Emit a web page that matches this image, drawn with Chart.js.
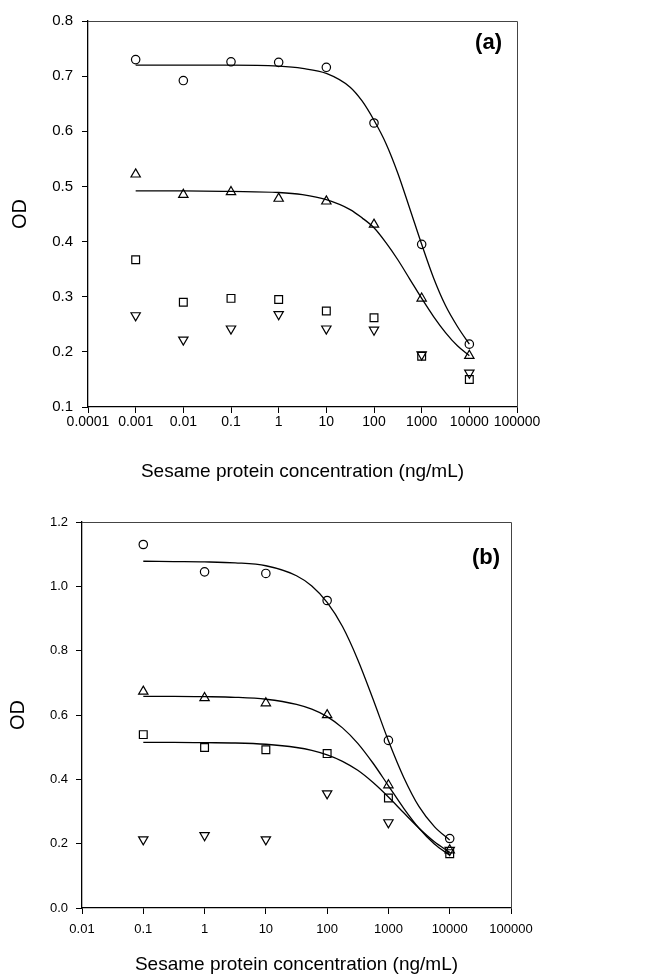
<!DOCTYPE html>
<html>
<head>
<meta charset="utf-8">
<script src="https://cdn.jsdelivr.net/npm/chart.js@4/dist/chart.umd.min.js"></script>
<style>
body { margin: 0; background: #fff; }
canvas { display: block; }
</style>
</head>
<body>
<canvas id="graficoA" width="656" height="488"></canvas>
<canvas id="graficoB" width="656" height="489"></canvas>
<script>
// Datos del panel (a)
const concA = [0.001, 0.01, 0.1, 1, 10, 100, 1000, 10000];
const circulosA = [0.730, 0.692, 0.726, 0.725, 0.716, 0.615, 0.395, 0.214];
const triangulosA = [0.522, 0.485, 0.490, 0.478, 0.473, 0.431, 0.297, 0.193];
const cuadradosA = [0.367, 0.290, 0.297, 0.295, 0.274, 0.262, 0.192, 0.150];
const invertidosA = [0.266, 0.222, 0.242, 0.268, 0.242, 0.240, 0.195, 0.162];

const curvaXA = [0.001, 0.01, 0.1, 1, 3.16, 10, 31.6, 56.2, 100, 178, 316, 562, 1000, 1778, 3162, 5623, 10000];
const ajusteCirculosA = [0.720, 0.720, 0.720, 0.718, 0.714, 0.705, 0.680, 0.655, 0.620, 0.578, 0.524, 0.460, 0.395, 0.334, 0.284, 0.246, 0.214];
const ajusteTriangulosA = [0.492, 0.492, 0.491, 0.489, 0.485, 0.476, 0.458, 0.443, 0.425, 0.398, 0.367, 0.332, 0.297, 0.264, 0.235, 0.211, 0.193];

const ticksXA = [0.0001, 0.001, 0.01, 0.1, 1, 10, 100, 1000, 10000, 100000];
const etiquetasXA = ["0.0001", "0.001", "0.01", "0.1", "1", "10", "100", "1000", "10000", "100000"];

// Datos del panel (b)
const concB = [0.1, 1, 10, 100, 1000, 10000];
const circulosB = [1.130, 1.045, 1.040, 0.956, 0.521, 0.216];
const triangulosB = [0.673, 0.653, 0.637, 0.600, 0.382, 0.180];
const cuadradosB = [0.539, 0.499, 0.492, 0.480, 0.342, 0.169];
const invertidosB = [0.213, 0.226, 0.213, 0.356, 0.266, 0.180];

const curvaXB = [0.1, 0.316, 1, 3.16, 10, 31.6, 56.2, 100, 178, 316, 562, 1000, 1778, 3162, 5623, 10000];
const ajusteCirculosB = [1.078, 1.077, 1.076, 1.073, 1.064, 1.033, 1.001, 0.950, 0.875, 0.772, 0.649, 0.520, 0.406, 0.315, 0.253, 0.211];
const ajusteTriangulosB = [0.658, 0.658, 0.657, 0.655, 0.649, 0.633, 0.618, 0.595, 0.560, 0.512, 0.450, 0.380, 0.310, 0.248, 0.199, 0.164];
const ajusteCuadradosB = [0.515, 0.515, 0.514, 0.513, 0.509, 0.499, 0.490, 0.476, 0.456, 0.428, 0.390, 0.345, 0.296, 0.248, 0.206, 0.173];

const ticksXB = [0.01, 0.1, 1, 10, 100, 1000, 10000, 100000];
const etiquetasXB = ["0.01", "0.1", "1", "10", "100", "1000", "10000", "100000"];

const tituloX = "Sesame protein concentration (ng/mL)";
const tituloY = "OD";
const FUENTE = "'Liberation Sans', Arial, sans-serif";

// Convierte dos listas en puntos {x, y}
function puntos(xs, ys) {
    return xs.map((x, i) => ({ x: x, y: ys[i] }));
}

function serieMarcas(xs, ys, estilo, radio, rotacion) {
    return {
        data: puntos(xs, ys),
        showLine: false,
        pointStyle: estilo,
        pointRadius: radio,
        pointRotation: rotacion || 0,
        pointBorderColor: '#000',
        pointBackgroundColor: 'rgba(0,0,0,0)',
        pointBorderWidth: 1.2
    };
}

function serieCurva(xs, ys) {
    return {
        data: puntos(xs, ys),
        showLine: true,
        borderColor: '#000',
        borderWidth: 1.3,
        pointRadius: 0,
        cubicInterpolationMode: 'monotone',
        fill: false
    };
}

// Marco superior/derecho y letra del panel
const marcoPlugin = {
    id: 'marco',
    afterDraw(chart, args, opts) {
        const ctx = chart.ctx;
        const a = chart.chartArea;
        ctx.save();
        ctx.strokeStyle = '#444';
        ctx.lineWidth = 1;
        ctx.beginPath();
        ctx.moveTo(a.left, a.top + 0.5);
        ctx.lineTo(a.right + 0.5, a.top + 0.5);
        ctx.lineTo(a.right + 0.5, a.bottom);
        ctx.stroke();
        ctx.fillStyle = '#000';
        ctx.font = "bold 22px " + FUENTE;
        ctx.textAlign = 'right';
        ctx.textBaseline = 'middle';
        ctx.fillText(opts.texto, a.right - opts.dx, a.top + opts.dy);
        ctx.restore();
    }
};

function crearGrafico(id, p) {
    const ctx = document.getElementById(id).getContext('2d');
    return new Chart(ctx, {
        type: 'scatter',
        data: { datasets: p.datasets },
        plugins: [marcoPlugin],
        options: {
            responsive: false,
            animation: false,
            devicePixelRatio: 1,
            layout: { padding: { top: p.arriba, right: p.derecha, left: 0, bottom: 0 } },
            plugins: {
                legend: { display: false },
                tooltip: { enabled: false },
                marco: { texto: p.letra, dx: p.letraDx, dy: p.letraDy }
            },
            scales: {
                x: {
                    type: 'logarithmic',
                    min: p.ticksX[0],
                    max: p.ticksX[p.ticksX.length - 1],
                    afterBuildTicks: s => { s.ticks = p.ticksX.map(v => ({ value: v })); },
                    afterFit: s => { s.height = p.altoEjeX; },
                    border: { display: true, color: '#000', width: 1.3 },
                    grid: { drawOnChartArea: false, drawTicks: true, tickLength: 6, color: '#000', lineWidth: 1 },
                    ticks: {
                        autoSkip: false,
                        maxRotation: 0,
                        padding: p.padTickX,
                        color: '#000',
                        font: { family: FUENTE, size: p.tamTick },
                        callback: (v, i) => p.etiquetasX[i]
                    },
                    title: {
                        display: true,
                        text: tituloX,
                        color: '#000',
                        font: { family: FUENTE, size: 19 },
                        padding: { top: 0, bottom: p.padTituloX }
                    }
                },
                y: {
                    type: 'linear',
                    min: p.minY,
                    max: p.maxY,
                    afterFit: s => { s.width = p.anchoEjeY; },
                    border: { display: true, color: '#000', width: 1.3 },
                    grid: { drawOnChartArea: false, drawTicks: true, tickLength: 6, color: '#000', lineWidth: 1 },
                    ticks: {
                        stepSize: p.pasoY,
                        padding: p.padTickY,
                        color: '#000',
                        font: { family: FUENTE, size: p.tamTickY },
                        callback: v => v.toFixed(1)
                    },
                    title: {
                        display: true,
                        text: tituloY,
                        color: '#000',
                        font: { family: FUENTE, size: 20 },
                        padding: { top: p.padTituloY, bottom: 0 }
                    }
                }
            }
        }
    });
}

crearGrafico('graficoA', {
    datasets: [
        serieCurva(curvaXA, ajusteCirculosA),
        serieCurva(curvaXA, ajusteTriangulosA),
        serieMarcas(concA, circulosA, 'circle', 4.2),
        serieMarcas(concA, triangulosA, 'triangle', 5.4),
        serieMarcas(concA, cuadradosA, 'rect', 5.5),
        serieMarcas(concA, invertidosA, 'triangle', 5.4, 180)
    ],
    ticksX: ticksXA, etiquetasX: etiquetasXA,
    minY: 0.1, maxY: 0.8, pasoY: 0.1,
    arriba: 21, derecha: 139, anchoEjeY: 88, altoEjeX: 81,
    tamTick: 14, tamTickY: 15, padTickX: 1, padTickY: 9,
    padTituloX: 5, padTituloY: 8,
    letra: '(a)', letraDx: 15, letraDy: 22
});

crearGrafico('graficoB', {
    datasets: [
        serieCurva(curvaXB, ajusteCirculosB),
        serieCurva(curvaXB, ajusteTriangulosB),
        serieCurva(curvaXB, ajusteCuadradosB),
        serieMarcas(concB, circulosB, 'circle', 4.2),
        serieMarcas(concB, triangulosB, 'triangle', 5.4),
        serieMarcas(concB, cuadradosB, 'rect', 5.5),
        serieMarcas(concB, invertidosB, 'triangle', 5.4, 180)
    ],
    ticksX: ticksXB, etiquetasX: etiquetasXB,
    minY: 0, maxY: 1.2, pasoY: 0.2,
    arriba: 34, derecha: 145, anchoEjeY: 82, altoEjeX: 69,
    tamTick: 13, tamTickY: 13, padTickX: 8, padTickY: 8,
    padTituloX: 1, padTituloY: 6,
    letra: '(b)', letraDx: 11, letraDy: 36
});
</script>
</body>
</html>
